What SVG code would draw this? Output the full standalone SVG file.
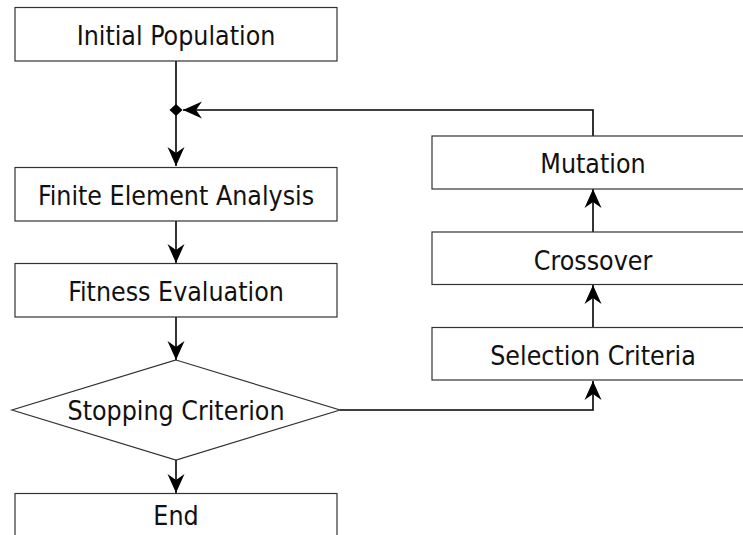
<svg xmlns="http://www.w3.org/2000/svg" width="743" height="535" viewBox="0 0 743 535">
<style>
.box{fill:#fff;stroke:#333;stroke-width:1.2}
.lbl{font-family:"DejaVu Sans Condensed","DejaVu Sans",sans-serif;font-stretch:condensed;font-size:26.5px;fill:#111;text-anchor:middle}
.con{fill:none;stroke:#000;stroke-width:1.6}
</style>
<defs>
<marker id="arr" markerUnits="userSpaceOnUse" viewBox="-20 -10 21 20" refX="0" refY="0" markerWidth="21" markerHeight="20" orient="auto">
<path d="M0,0 L-19,-8.5 L-13,0 L-19,8.5 Z" fill="#000"/>
</marker>
</defs>
<rect width="743" height="535" fill="#fff"/>
<g id="connectors">
<path class="con" d="M176,61 V166" marker-end="url(#arr)"/>
<path class="con" d="M593,136 V110 H183" marker-end="url(#arr)"/>
<path d="M176,104 L182.5,110 L176,116 L169.5,110 Z" fill="#000"/>
<path class="con" d="M176,221 V263" marker-end="url(#arr)"/>
<path class="con" d="M176,317 V360" marker-end="url(#arr)"/>
<path class="con" d="M176,460 V493" marker-end="url(#arr)"/>
<path class="con" d="M340,410 H593 V381" marker-end="url(#arr)"/>
<path class="con" d="M593,327 V285" marker-end="url(#arr)"/>
<path class="con" d="M593,232 V189" marker-end="url(#arr)"/>
</g>
<g id="initial"><rect class="box" x="15" y="7.5" width="322" height="53.5"/><text class="lbl" x="176" y="45">Initial Population</text></g>
<g id="fea"><rect class="box" x="15" y="167.5" width="322" height="53.5"/><text class="lbl" x="176" y="205">Finite Element Analysis</text></g>
<g id="fitness"><rect class="box" x="15" y="263.5" width="322" height="53.5"/><text class="lbl" x="176" y="301">Fitness Evaluation</text></g>
<g id="stop"><path class="box" d="M176,360 L340,410 L176,460 L12,410 Z"/><text class="lbl" x="176" y="420">Stopping Criterion</text></g>
<g id="end"><rect class="box" x="15" y="493.5" width="322" height="53.5"/><text class="lbl" x="176" y="525">End</text></g>
<g id="mutation"><rect class="box" x="432" y="136" width="322" height="53"/><text class="lbl" x="593" y="173">Mutation</text></g>
<g id="crossover"><rect class="box" x="432" y="232" width="322" height="52.5"/><text class="lbl" x="593" y="270">Crossover</text></g>
<g id="selection"><rect class="box" x="432" y="327.5" width="322" height="52.5"/><text class="lbl" x="593" y="365">Selection Criteria</text></g>
</svg>
